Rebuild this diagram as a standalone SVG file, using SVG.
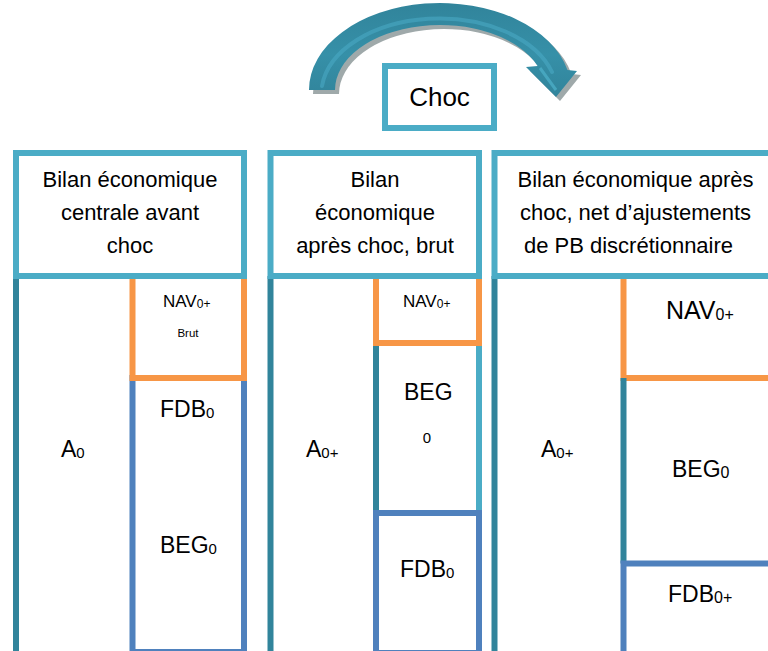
<svg xmlns="http://www.w3.org/2000/svg" width="768" height="651" viewBox="0 0 768 651">
  <defs>
    <style>
      .hdr { fill: #FFFFFF; stroke: #4BACC6; stroke-width: 6; }
      .teal { fill: none; stroke: #31849B; stroke-width: 6; }
      .light { fill: none; stroke: #4BACC6; stroke-width: 6; }
      .orange { fill: #FFFFFF; stroke: #F79646; stroke-width: 6; }
      .blue { fill: #FFFFFF; stroke: #4F81BD; stroke-width: 6; }
      .t { font-family: "Liberation Sans", Arial, sans-serif; fill: #000000; }
      .h { font-size: 22px; text-anchor: middle; }
      .m { font-size: 23px; }
      .s { font-size: 15px; }
    </style>
    <linearGradient id="arrowFill" x1="0" y1="0" x2="0" y2="1">
      <stop offset="0" stop-color="#31849B"/>
      <stop offset="0.55" stop-color="#3690A8"/>
      <stop offset="1" stop-color="#31849B"/>
    </linearGradient>
  </defs>

  <rect width="768" height="651" fill="#FFFFFF"/>

  <!-- curved shock arrow -->
  <g id="connectors">
    <path transform="translate(4,4)" fill="#7F8C8D" opacity="0.75"
          d="M 309 90 A 131 87 0 0 1 567.5 70 L 577 71 L 556 97 L 526 67 L 537.6 66 A 105 65 0 0 0 335 90 Z"/>
    <path fill="url(#arrowFill)"
          d="M 309 90 A 131 87 0 0 1 567.5 70 L 577 71 L 556 97 L 526 67 L 537.6 66 A 105 65 0 0 0 335 90 Z"/>
    <path fill="none" stroke="#4BACC6" stroke-width="4" stroke-linecap="round" opacity="0.55"
          d="M 322 86 A 118 76 0 0 1 552 72"/>
    <path fill="none" stroke="#4BACC6" stroke-width="3" opacity="0.8"
          d="M 540 68 L 556 90"/>
  </g>

  <g id="choc">
    <rect x="385" y="66" width="109" height="62" class="hdr"/>
    <text x="439.5" y="106" class="t" font-size="26" text-anchor="middle">Choc</text>
  </g>

  <!-- panel 1: balance sheet before shock -->
  <g id="bilan-avant">
    <line x1="16" y1="276" x2="16" y2="655" class="teal"/>
    <rect x="132.5" y="378" width="111.5" height="274" class="blue"/>
    <rect x="132.5" y="276" width="111.5" height="102" class="orange"/>
    <rect x="16" y="153" width="228" height="123" class="hdr"/>
    <text class="t h" x="130" y="187">Bilan économique</text>
    <text class="t h" x="130" y="220">centrale avant</text>
    <text class="t h" x="130" y="253">choc</text>
    <text class="t" x="163" y="307" font-size="17">NAV<tspan font-size="12" dy="1">0+</tspan></text>
    <text class="t" x="188" y="337" font-size="11.5" text-anchor="middle">Brut</text>
    <text class="t m" x="160" y="417">FDB<tspan class="s" dy="1">0</tspan></text>
    <text class="t m" x="61" y="457">A<tspan class="s" dy="1">0</tspan></text>
    <text class="t m" x="160" y="553">BEG<tspan class="s" dy="1">0</tspan></text>
  </g>

  <!-- panel 2: balance sheet after shock, gross -->
  <g id="bilan-brut">
    <line x1="270.5" y1="276" x2="270.5" y2="655" class="teal"/>
    <line x1="376" y1="343" x2="376" y2="513" class="teal"/>
    <line x1="479" y1="343" x2="479" y2="513" class="light"/>
    <rect x="376" y="513" width="103" height="140" class="blue"/>
    <rect x="376" y="276" width="103" height="67" class="orange"/>
    <rect x="270.5" y="153" width="208.5" height="123" class="hdr"/>
    <text class="t h" x="375" y="187">Bilan</text>
    <text class="t h" x="375" y="220">économique</text>
    <text class="t h" x="375" y="253">après choc, brut</text>
    <text class="t" x="403" y="307" font-size="17">NAV<tspan font-size="12" dy="1">0+</tspan></text>
    <text class="t m" x="404" y="400">BEG</text>
    <text class="t s" x="427" y="443" text-anchor="middle">0</text>
    <text class="t m" x="306" y="457">A<tspan class="s" dy="1">0+</tspan></text>
    <text class="t m" x="400" y="577">FDB<tspan class="s" dy="1">0</tspan></text>
  </g>

  <!-- panel 3: after shock, net of discretionary PB adjustments -->
  <g id="bilan-net">
    <line x1="494.5" y1="276" x2="494.5" y2="655" class="teal"/>
    <polyline points="623.5,276 623.5,378 772,378" class="orange"/>
    <line x1="623.5" y1="378" x2="623.5" y2="563.5" class="teal"/>
    <polyline points="623.5,655 623.5,563.5 772,563.5" class="blue" fill="none"/>
    <rect x="494.5" y="153" width="300" height="123" class="hdr"/>
    <text class="t h" x="635.5" y="187">Bilan économique après</text>
    <text class="t h" x="635.5" y="220">choc, net d’ajustements</text>
    <text class="t h" x="628.5" y="253">de PB discrétionnaire</text>
    <text class="t" x="666" y="319" font-size="25">NAV<tspan font-size="16" dy="1">0+</tspan></text>
    <text class="t m" x="541" y="457">A<tspan class="s" dy="1">0+</tspan></text>
    <text class="t m" x="672" y="477">BEG<tspan font-size="16" dy="1">0</tspan></text>
    <text class="t m" x="668" y="602">FDB<tspan font-size="16" dy="1">0+</tspan></text>
  </g>
</svg>
